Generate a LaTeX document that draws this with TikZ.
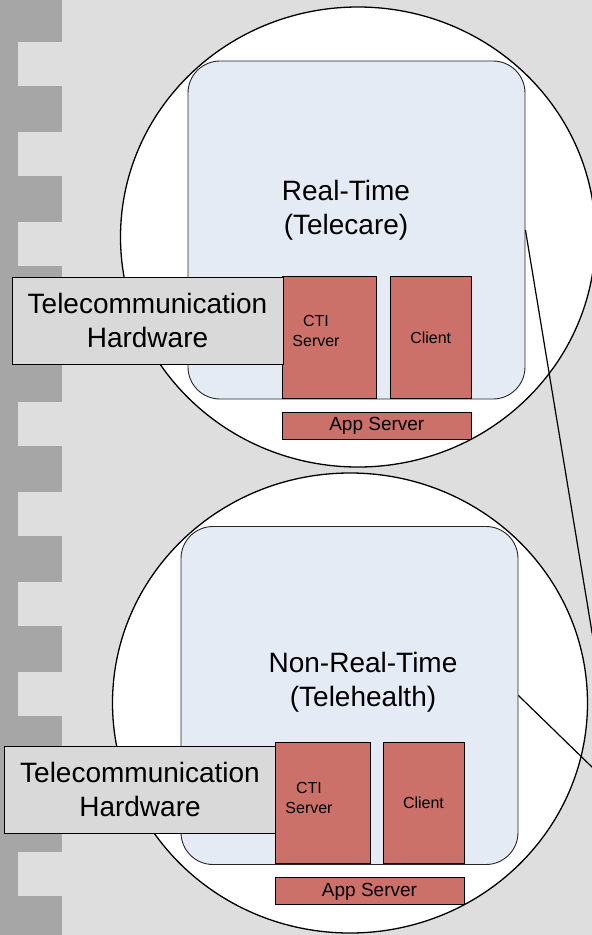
\documentclass[tikz,border=0pt]{standalone}
\usepackage{fontspec}
\setmainfont{Liberation Sans}
\usetikzlibrary{shapes.geometric}
\definecolor{bggray}{HTML}{DEDEDE}
\definecolor{stripgray}{HTML}{A6A6A6}
\definecolor{panelblue}{HTML}{E5EBF5}
\definecolor{boxred}{HTML}{CC7169}
\definecolor{hwgray}{HTML}{D9D9D9}
\begin{document}
\begin{tikzpicture}[x=1pt,y=-1pt,
  zone/.style={ellipse, draw=black, line width=1.3pt, fill=white, inner sep=0pt,
    minimum width=475pt, minimum height=460pt},
  panel/.style={draw=black!85, line width=0.9pt, fill=panelblue, rounded corners=32pt,
    minimum width=337pt, minimum height=338pt, inner sep=0pt},
  redbox/.style={draw=black, line width=1pt, fill=boxred, inner sep=0pt},
  hwbox/.style={draw=black, line width=1pt, fill=hwgray, inner sep=0pt,
    minimum width=271pt, minimum height=87pt, align=center,
    font=\fontsize{28}{34}\selectfont},
  title/.style={align=center, inner sep=0pt, font=\fontsize{28}{34}\selectfont},
  small/.style={align=center, inner sep=0pt, font=\fontsize{16}{20}\selectfont},
  appfont/.style={inner sep=0pt, font=\fontsize{19}{23}\selectfont},
  link/.style={line width=1.2pt, draw=black}
]
% page and background
\clip (0,0) rectangle (592,935);
\fill[bggray] (0,0) rectangle (592,935);

% notched strip along the left edge
\fill[stripgray] (0,0) rectangle (18,935);
\foreach \k in {0,...,10}
  \fill[stripgray] (18,{90*\k-4}) rectangle (62,{90*\k+42});

% the two zones
\node[zone] (zoneA) at (358,237) {};
\node[zone] (zoneB) at (350,703) {};

% panels inside the zones
\node[panel] (rt)  at (356.5,230) {};
\node[panel] (nrt) at (349.5,695.5) {};

% links leaving the panels to the right
\coordinate (outA) at (600,680.7);
\coordinate (outB) at (600,774.8);
\draw[link] (rt.east) -- (outA);
\draw[link] (nrt.east) -- (outB);

% real-time components
\node[redbox, minimum width=94.4pt, minimum height=121.6pt] (ctiA) at (329.5,337.5) {};
\node[redbox, minimum width=81.3pt, minimum height=121.6pt] (clientA) at (430.7,337.5) {};
\node[redbox, minimum width=189pt, minimum height=26.7pt] (appA) at (376.8,425.7) {};
\node[small] (ctiAtext) at (316,331) {CTI\\Server};
\node[small] (clientAtext) at (430.7,338) {Client};
\node[appfont] (appAtext) at (376.8,426) {App Server};
\node[hwbox] (hwA) at (147.5,320.5) {Telecommunication\\Hardware};
\node[title] (rtlabel) at (346,210) {Real-Time\\(Telecare)};

% non-real-time components
\node[redbox, minimum width=94.7pt, minimum height=121.3pt] (ctiB) at (322.7,803.3) {};
\node[redbox, minimum width=81pt, minimum height=121.3pt] (clientB) at (423.8,803.3) {};
\node[redbox, minimum width=189pt, minimum height=27pt] (appB) at (369.8,890.8) {};
\node[small] (ctiBtext) at (309,797.5) {CTI\\Server};
\node[small] (clientBtext) at (423.5,802.5) {Client};
\node[appfont] (appBtext) at (369.5,891.5) {App Server};
\node[hwbox] (hwB) at (140,789.5) {Telecommunication\\Hardware};
\node[title] (nrtlabel) at (363,682) {Non-Real-Time\\(Telehealth)};
\end{tikzpicture}
\end{document}
